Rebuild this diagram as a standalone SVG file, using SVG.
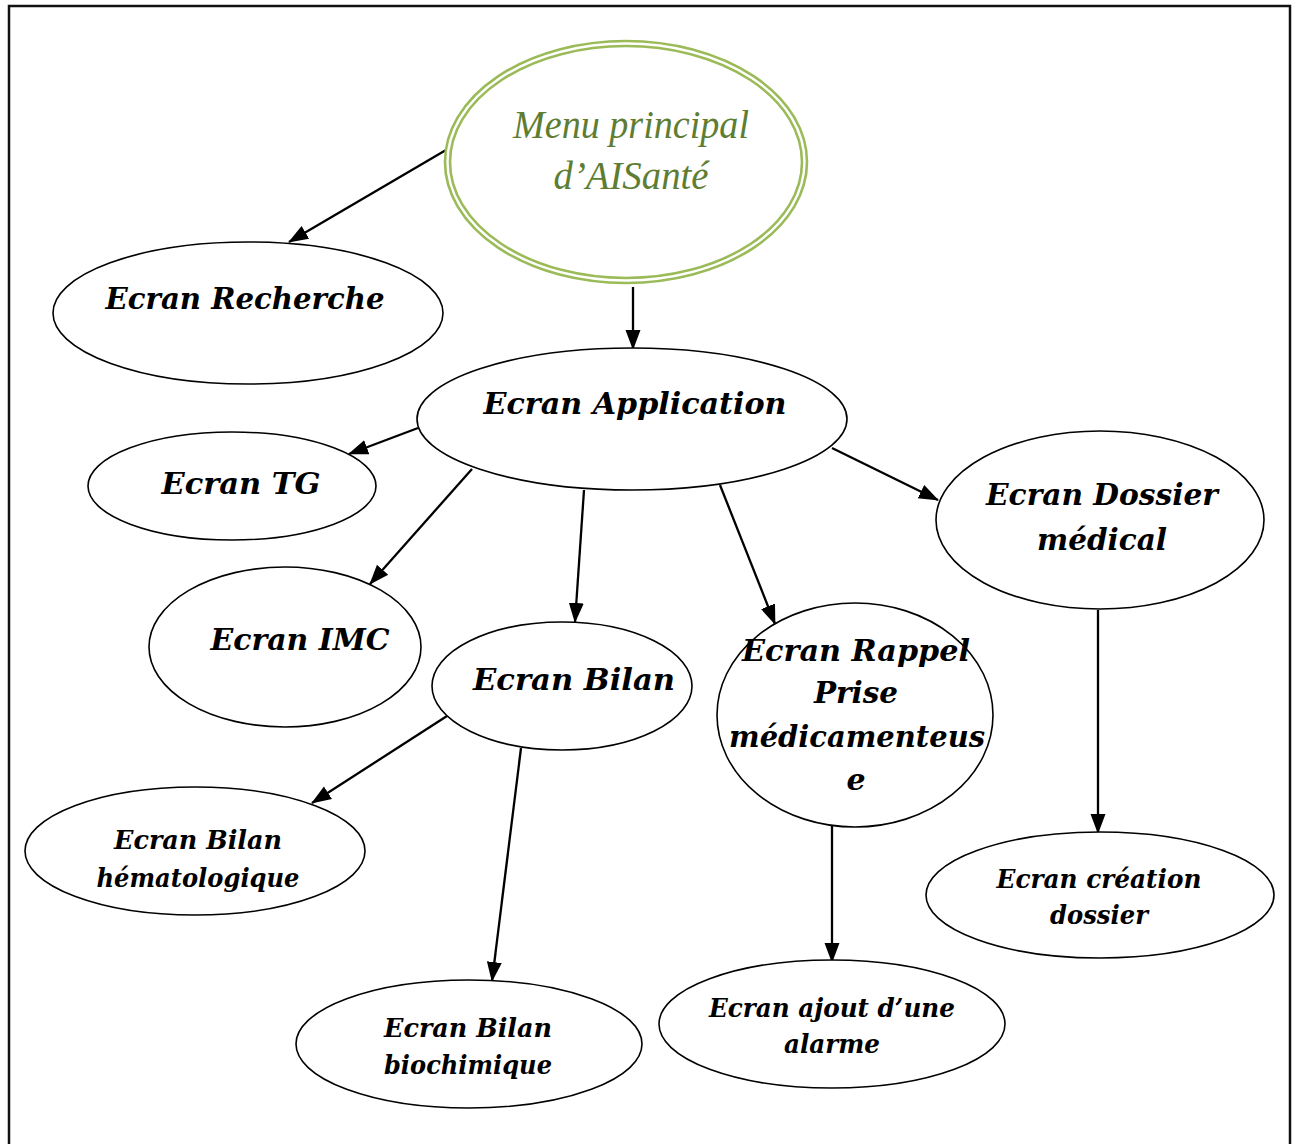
<svg xmlns="http://www.w3.org/2000/svg" width="1297" height="1144" viewBox="0 0 1297 1144">
  <defs>
    <style>
      .node { fill: #ffffff; stroke: #000000; stroke-width: 1.6; }
      .lbl { font-family: "DejaVu Serif", "Liberation Serif", serif; font-weight: bold; font-style: italic; fill: #000000; text-anchor: middle; }
      .big { font-size: 30px; }
      .small { font-size: 26px; }
      .menu { font-family: "Liberation Serif", "DejaVu Serif", serif; font-style: italic; font-size: 41px; fill: #5e7d32; text-anchor: middle; }
      .edge { stroke: #000000; stroke-width: 2.3; fill: none; marker-end: url(#arrow); }
      .green { fill: none; stroke: #9bbb59; stroke-width: 2.6; }
    </style>
    <marker id="arrow" markerUnits="userSpaceOnUse" markerWidth="20" markerHeight="18" viewBox="0 0 20 18" refX="19" refY="9" orient="auto">
      <path d="M0,1.5 L20,9 L0,16.5 Z" fill="#000000"/>
    </marker>
  </defs>

  <rect width="1297" height="1144" fill="#ffffff"/>
  <!-- page frame -->
  <path d="M9,1150 V6 H1290 V1150" fill="none" stroke="#111111" stroke-width="2.5"/>

  <g id="connectors">
    <line class="edge" x1="446" y1="150" x2="289" y2="242"/>
    <line class="edge" x1="633" y1="287" x2="633" y2="349"/>
    <line class="edge" x1="418" y1="428" x2="349" y2="454"/>
    <line class="edge" x1="472" y1="469" x2="370" y2="584"/>
    <line class="edge" x1="584" y1="490" x2="575" y2="622"/>
    <line class="edge" x1="720" y1="485" x2="775" y2="624"/>
    <line class="edge" x1="832" y1="448" x2="938" y2="500"/>
    <line class="edge" x1="1098" y1="610" x2="1098" y2="833"/>
    <line class="edge" x1="447" y1="716" x2="312" y2="803"/>
    <line class="edge" x1="521" y1="748" x2="492" y2="981"/>
    <line class="edge" x1="832" y1="826" x2="832" y2="962"/>
  </g>

  <g id="menu-principal">
    <ellipse class="green" cx="626" cy="162" rx="181" ry="121"/>
    <ellipse class="green" cx="626" cy="162" rx="176" ry="116"/>
    <text class="menu" x="631" y="138" textLength="236" lengthAdjust="spacingAndGlyphs">Menu principal</text>
    <text class="menu" x="631" y="189" textLength="155" lengthAdjust="spacingAndGlyphs">d’AISanté</text>
  </g>

  <g id="ecran-recherche">
    <ellipse class="node" cx="248" cy="313" rx="195" ry="71"/>
    <text class="lbl big" x="245" y="309" textLength="279" lengthAdjust="spacingAndGlyphs">Ecran Recherche</text>
  </g>

  <g id="ecran-application">
    <ellipse class="node" cx="632" cy="419" rx="215" ry="71"/>
    <text class="lbl big" x="635" y="414" textLength="303" lengthAdjust="spacingAndGlyphs">Ecran Application</text>
  </g>

  <g id="ecran-tg">
    <ellipse class="node" cx="232" cy="486" rx="144" ry="54"/>
    <text class="lbl big" x="241" y="494" textLength="159" lengthAdjust="spacingAndGlyphs">Ecran TG</text>
  </g>

  <g id="ecran-dossier-medical">
    <ellipse class="node" cx="1100" cy="520" rx="164" ry="89"/>
    <text class="lbl big" x="1102" y="505" textLength="232" lengthAdjust="spacingAndGlyphs">Ecran Dossier</text>
    <text class="lbl big" x="1102" y="550" textLength="130" lengthAdjust="spacingAndGlyphs">médical</text>
  </g>

  <g id="ecran-imc">
    <ellipse class="node" cx="285" cy="647" rx="136" ry="80"/>
    <text class="lbl big" x="300" y="650" textLength="179" lengthAdjust="spacingAndGlyphs">Ecran IMC</text>
  </g>

  <g id="ecran-bilan">
    <ellipse class="node" cx="562" cy="686" rx="130" ry="64"/>
    <text class="lbl big" x="574" y="690" textLength="202" lengthAdjust="spacingAndGlyphs">Ecran Bilan</text>
  </g>

  <g id="ecran-rappel">
    <ellipse class="node" cx="855" cy="715" rx="138" ry="112"/>
    <text class="lbl big" x="856" y="661" textLength="228" lengthAdjust="spacingAndGlyphs">Ecran Rappel</text>
    <text class="lbl big" x="856" y="703" textLength="84" lengthAdjust="spacingAndGlyphs">Prise</text>
    <text class="lbl big" x="857" y="747" textLength="256" lengthAdjust="spacingAndGlyphs">médicamenteus</text>
    <text class="lbl big" x="856" y="790">e</text>
  </g>

  <g id="ecran-bilan-hematologique">
    <ellipse class="node" cx="195" cy="851" rx="170" ry="64"/>
    <text class="lbl small" x="198" y="849" textLength="168" lengthAdjust="spacingAndGlyphs">Ecran Bilan</text>
    <text class="lbl small" x="198" y="887" textLength="203" lengthAdjust="spacingAndGlyphs">hématologique</text>
  </g>

  <g id="ecran-creation-dossier">
    <ellipse class="node" cx="1100" cy="895" rx="174" ry="63"/>
    <text class="lbl small" x="1099" y="888" textLength="205" lengthAdjust="spacingAndGlyphs">Ecran création</text>
    <text class="lbl small" x="1099" y="924" textLength="98" lengthAdjust="spacingAndGlyphs">dossier</text>
  </g>

  <g id="ecran-bilan-biochimique">
    <ellipse class="node" cx="469" cy="1044" rx="173" ry="64"/>
    <text class="lbl small" x="468" y="1037" textLength="168" lengthAdjust="spacingAndGlyphs">Ecran Bilan</text>
    <text class="lbl small" x="468" y="1074" textLength="168" lengthAdjust="spacingAndGlyphs">biochimique</text>
  </g>

  <g id="ecran-ajout-alarme">
    <ellipse class="node" cx="832" cy="1024" rx="173" ry="64"/>
    <text class="lbl small" x="832" y="1017" textLength="246" lengthAdjust="spacingAndGlyphs">Ecran ajout d’une</text>
    <text class="lbl small" x="832" y="1053" textLength="96" lengthAdjust="spacingAndGlyphs">alarme</text>
  </g>
</svg>
